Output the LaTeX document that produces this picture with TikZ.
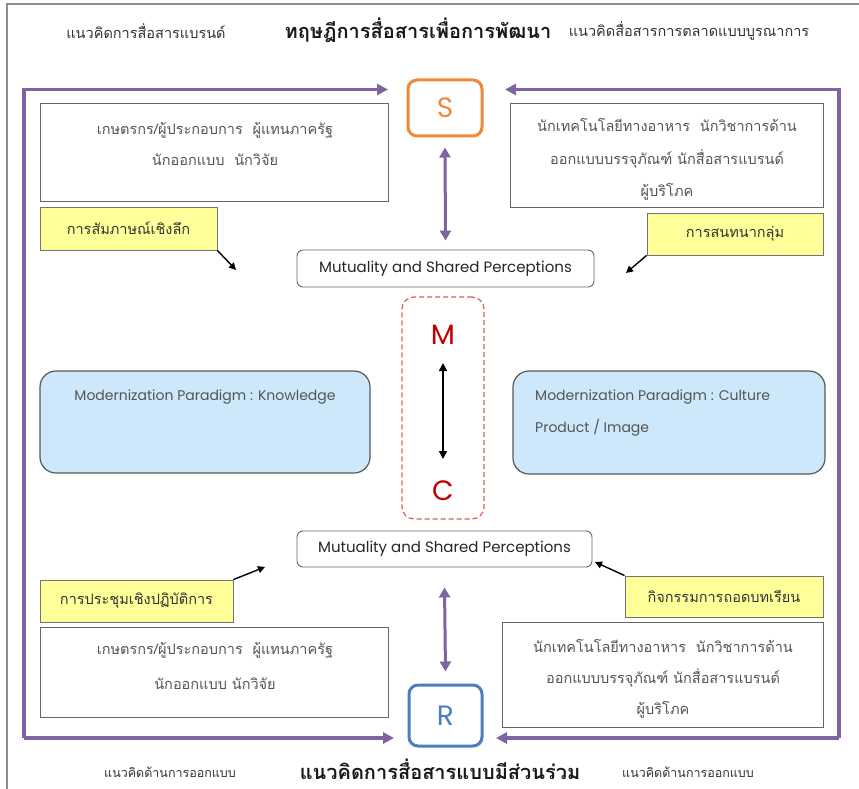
\documentclass[tikz,border=0pt]{standalone}
\usepackage{fontspec}
\setmainfont[Script=Thai]{Loma}
\newfontfamily\latinfont{Poppins}
\usetikzlibrary{arrows.meta}

\definecolor{frameviolet}{HTML}{8064A2}
\definecolor{sorange}{HTML}{F0883A}
\definecolor{rblue}{HTML}{4A7EC0}
\definecolor{notefill}{HTML}{FFFF99}
\definecolor{paradigmfill}{HTML}{CCE8FA}
\definecolor{mcred}{HTML}{D85A5A}
\definecolor{letterred}{HTML}{C00000}
\definecolor{textgray}{HTML}{555555}

\tikzset{
  partybox/.style={draw=black!60,line width=0.9pt,fill=white,inner sep=0pt},
  notebox/.style={draw=black!55,line width=0.9pt,fill=notefill,inner sep=0pt,
    text=black!80,font=\fontsize{14.5}{17}\selectfont},
  mutbox/.style={draw=black!60,line width=0.9pt,rounded corners=6pt,fill=white,
    inner sep=0pt,text=black!85,font=\latinfont\fontsize{15}{18}\selectfont},
  paradigmbox/.style={draw=black!65,line width=1.2pt,rounded corners=16pt,
    fill=paradigmfill,inner sep=0pt},
  boxtext/.style={font=\fontsize{14.5}{#1}\selectfont,text=textgray,align=center,inner sep=0pt},
  paratext/.style={font=\latinfont\fontsize{14}{#1}\selectfont,text=textgray,inner sep=0pt},
  letter/.style={font=\latinfont\fontsize{28}{32}\selectfont},
  frameline/.style={draw=frameviolet,line width=3.2pt},
  violetarrow/.style={draw=frameviolet,line width=3pt,
    {Triangle[length=10pt,width=11pt]}-{Triangle[length=10pt,width=11pt]}},
  pointer/.style={draw=black,line width=1.4pt,-{Triangle[length=7pt,width=7pt]}},
  smalltitle/.style={font=\fontsize{#1}{16}\selectfont,text=black!80},
  bigtitle/.style={font=\fontsize{20}{24}\bfseries\selectfont,text=black!90}
}

\begin{document}
\begin{tikzpicture}[x=1pt,y=-1pt]
\useasboundingbox (0,0) rectangle (859,789);
% page frame
\draw[black!45,line width=1.2pt] (7,789) -- (7,4) -- (859,4);

% titles
\node[smalltitle=14.5] (topleft) at (146,31) {แนวคิดการสื่อสารแบรนด์};
\node[bigtitle] (toptitle) at (418,30) {ทฤษฎีการสื่อสารเพื่อการพัฒนา};
\node[smalltitle=14.5] (topright) at (689,31) {แนวคิดสื่อสารการตลาดแบบบูรณาการ};
\node[smalltitle=12.5] (botleft) at (170,772) {แนวคิดด้านการออกแบบ};
\node[bigtitle] (bottitle) at (440,769) {แนวคิดการสื่อสารแบบมีส่วนร่วม};
\node[smalltitle=12.5] (botright) at (688,772) {แนวคิดด้านการออกแบบ};

% S and R
\node[draw=sorange,line width=3pt,rounded corners=9pt,minimum width=74pt,minimum height=56pt,
  text=sorange,letter] (sNode) at (445,108) {S};
\node[draw=rblue,line width=3pt,rounded corners=9pt,minimum width=73pt,minimum height=61pt,
  text=rblue,letter] (rNode) at (445.5,715.5) {R};

% outer violet frame
\coordinate (tl) at (24,89.5);
\coordinate (bl) at (24,738);
\coordinate (tr) at (839,89.5);
\coordinate (br) at (839,738);
\coordinate (sIn) at (388,89.5);
\coordinate (sInR) at (505,89.5);
\coordinate (rIn) at (394,738);
\coordinate (rInR) at (496,738);
\draw[frameline,-{Triangle[length=11pt,width=11pt]}] (bl) -- (tl) -- (sIn);
\draw[frameline,-{Triangle[length=11pt,width=11pt]}] (bl) -- (rIn);
\draw[frameline,-{Triangle[length=11pt,width=11pt]}] (br) -- (tr) -- (sInR);
\draw[frameline,-{Triangle[length=11pt,width=11pt]}] (br) -- (rInR);

% party boxes
\node[partybox,minimum width=348pt,minimum height=98pt] (partyTL) at (214,152) {};
\node[boxtext=31] at (215,143.5) {เกษตรกร/ผู้ประกอบการ\ \ ผู้แทนภาครัฐ\\นักออกแบบ\ \ นักวิจัย};
\node[partybox,minimum width=313pt,minimum height=104pt] (partyTR) at (666.5,155) {};
\node[boxtext=32.5] at (667,159.5) {นักเทคโนโลยีทางอาหาร\ \ นักวิชาการด้าน\\ออกแบบบรรจุภัณฑ์ นักสื่อสารแบรนด์\\ผู้บริโภค};
\node[partybox,minimum width=348pt,minimum height=90pt] (partyBL) at (214,672) {};
\node[boxtext=35] at (215,665.5) {เกษตรกร/ผู้ประกอบการ\ \ ผู้แทนภาครัฐ\\นักออกแบบ นักวิจัย};
\node[partybox,minimum width=321pt,minimum height=105pt] (partyBR) at (662.5,674.5) {};
\node[boxtext=31] at (663,679) {นักเทคโนโลยีทางอาหาร\ \ นักวิชาการด้าน\\ออกแบบบรรจุภัณฑ์ นักสื่อสารแบรนด์\\ผู้บริโภค};

% method notes
\node[notebox,minimum width=177pt,minimum height=43pt] (methTL) at (128.5,228.5) {การสัมภาษณ์เชิงลึก};
\node[notebox,minimum width=176pt,minimum height=42pt] (methTR) at (735,234) {การสนทนากลุ่ม};
\node[notebox,minimum width=193pt,minimum height=42pt] (methBL) at (136.5,601) {การประชุมเชิงปฏิบัติการ};
\node[notebox,minimum width=198pt,minimum height=41pt] (methBR) at (724,596.5) {กิจกรรมการถอดบทเรียน};

% mutuality boxes
\node[mutbox,minimum width=297pt,minimum height=37pt] (mutTop) at (445.5,268.5) {Mutuality and Shared Perceptions};
\node[mutbox,minimum width=295pt,minimum height=36pt] (mutBot) at (444.5,549) {Mutuality and Shared Perceptions};

% pointers
\coordinate (pTL) at (236,270);
\coordinate (pTR) at (626,273);
\coordinate (pBL) at (265,567);
\coordinate (pBR) at (595,562);
\draw[pointer] (methTL.south east) -- (pTL);
\draw[pointer] (methTR.south west) -- (pTR);
\draw[pointer] (methBL.north east) -- (pBL);
\draw[pointer] (methBR.north west) -- (pBR);

% S-R links
\draw[violetarrow] ([yshift=-10pt]sNode.south) -- ([yshift=9pt]mutTop.north);
\draw[violetarrow] ([yshift=-20pt]mutBot.south) -- ([yshift=12pt]rNode.north);

% M-C
\node[draw=mcred,line width=1.2pt,dashed,dash pattern=on 5pt off 3pt,rounded corners=12pt,
  minimum width=82pt,minimum height=222pt] (mcBox) at (443,408) {};
\node[text=letterred,letter] (mNode) at (443,335) {M};
\node[text=letterred,letter] (cNode) at (443,491) {C};
\draw[black,line width=1.5pt,{Triangle[length=8pt,width=8pt]}-{Triangle[length=8pt,width=8pt]}]
  (443,363) -- (443,459);

% paradigms
\node[paradigmbox,minimum width=330pt,minimum height=102pt] (knowBox) at (205,422) {};
\node[paratext=14] at (205,397) {Modernization Paradigm : Knowledge};
\node[paradigmbox,minimum width=312pt,minimum height=103pt] (cultBox) at (669,422.5) {};
\node[paratext=32,align=left,anchor=west] at (535,413) {Modernization Paradigm : Culture\\Product / Image};
\end{tikzpicture}
\end{document}
